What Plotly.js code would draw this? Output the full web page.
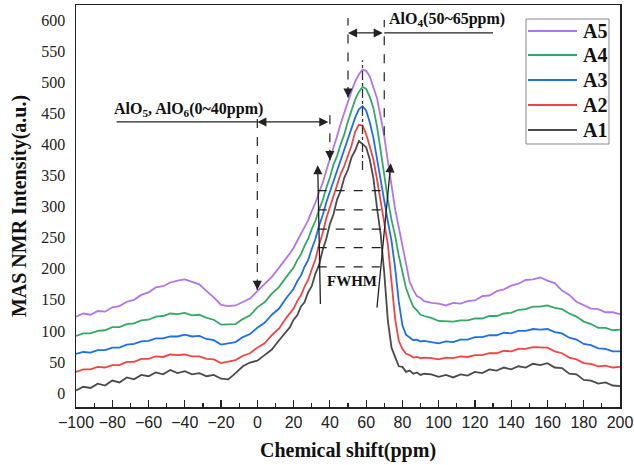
<!DOCTYPE html>
<html><head><meta charset="utf-8">
<script src="https://cdn.plot.ly/plotly-3.0.1.min.js"></script>
<style>html,body{margin:0;padding:0;background:#fff}</style>
</head><body><div id="chart" style="width:634px;height:465px"></div>
<script>
// ---- data ----
const shift = [-100,-96,-92,-88,-84,-80,-76,-72,-68,-64,-60,-56,-52,-48,-44,-40,-36,-32,-28,-24,-20,-16,-12,-8,-4,0,4,8,12,16,
  18,20,22,24,26,28,30,32,34,36,38,40,42,44,46,48,50,52,54,56,58,60,62,64,66,68,70,72,74,76,78,80,82,84,86,88,90,92,
  96,100,104,108,112,116,120,124,128,132,136,140,144,148,152,156,160,164,168,172,176,180,184,188,192,196,200];
const seriesNames = ['A1','A2','A3','A4','A5'];
const A5 = [123,128,126,132,131,138,140,147,150,158,162,170,172,178,181,183,179,175,164,154,142,140,141,147,152,164,175,187,202,217,
  225,234,245,254,267,278,293,306,323,338,358,376,396,414,434,452,471,487,502,513,521,519,510,494,475,445,413,373,335,296,267,237,207,179,166,156,153,148,
  145,144,141,145,144,148,149,156,157,164,167,173,176,182,183,186,181,177,165,158,147,142,136,135,130,130,127];
const A4 = [92,96,96,100,101,106,106,111,112,117,118,123,124,128,127,129,125,126,121,118,110,110,111,119,125,138,146,160,171,187,
  195,202,214,223,237,248,264,277,295,310,330,347,368,382,401,417,438,455,473,485,493,490,477,459,429,391,349,311,279,253,221,196,169,153,139,133,126,124,
  121,116,116,115,117,117,120,120,124,124,128,129,134,135,139,139,141,137,135,128,123,115,111,105,105,101,102];
const A3 = [63,66,65,69,69,73,73,78,79,83,84,88,88,91,91,94,91,92,87,85,78,80,82,90,95,105,113,126,136,153,
  161,168,180,189,203,214,232,248,269,286,307,324,344,359,378,392,411,426,444,457,462,455,436,411,377,341,304,276,245,201,147,109,94,90,85,86,83,84,
  82,80,83,82,86,86,90,90,93,93,97,96,100,100,103,102,103,98,96,89,86,79,77,72,71,67,67];
const A2 = [34,38,38,42,41,45,45,50,50,55,55,59,58,62,61,62,59,59,55,54,48,50,53,60,64,73,80,93,104,121,
  129,136,148,157,171,182,199,215,238,257,281,299,319,335,353,366,384,399,421,432,431,417,397,376,344,311,274,239,179,119,84,71,63,61,57,58,56,57,
  56,54,57,56,59,58,61,61,64,64,68,67,71,71,74,73,73,67,64,57,54,48,47,43,44,41,42];
const A1 = [4,10,8,15,12,20,17,25,22,29,27,33,30,37,32,35,30,32,27,29,23,22,32,43,49,52,61,70,85,98,
  106,118,125,139,146,162,172,192,206,230,248,272,288,312,326,347,360,380,391,406,401,396,376,346,298,256,193,116,73,57,43,42,34,36,31,33,29,31,
  30,26,29,25,30,28,34,32,38,36,41,38,43,41,47,45,48,41,40,31,30,21,20,15,17,12,11];
const fwhmLevels = [326,295,264,234,203];
const fwhmRight = [72,69,68.6,69,67.5];

// ---- styles ----
const seriesData = [A1,A2,A3,A4,A5];
const colors = ['#4a4a4a','#f04545','#1f6fe5','#36a865','#b276e6'];
const serif = 'Liberation Serif, Times New Roman, serif';
const sans = 'Liberation Sans, Arial, sans-serif';

const traces = seriesNames.map((n,i)=>({
  type:'scatter', mode:'lines', name:n, x:shift, y:seriesData[i],
  line:{color:colors[i], width:1.8}, hoverinfo:'skip'
}));

// pixel -> paper helpers for the hand-drawn legend
const L=76, R=620, T=5, B=407;
const P = px => (px-L)/(R-L);
const Q = py => (B-py)/(B-T);

const shapes = [];
const annotations = [];
const dk = '#222';

// legend
shapes.push({type:'rect', xref:'paper', yref:'paper', x0:P(526), x1:P(609), y0:Q(144), y1:Q(19),
  line:{color:'#888', width:1}, fillcolor:'#fff', layer:'above'});
const legY = [130,105,80,55,31];
seriesNames.forEach((n,i)=>{
  shapes.push({type:'line', xref:'paper', yref:'paper', x0:P(528), x1:P(577), y0:Q(legY[i]), y1:Q(legY[i]),
    line:{color:colors[i], width:2.2}, layer:'above'});
  annotations.push({xref:'paper', yref:'paper', x:P(581), y:Q(legY[i]), xanchor:'left', yanchor:'middle',
    text:'<b>'+n+'</b>', showarrow:false, font:{family:serif, size:20, color:'#111'}});
});

// AlO5/AlO6 bracket
shapes.push({type:'line', x0:-77.6, x1:0, y0:436.6, y1:436.6, line:{color:dk, width:1.3}});
annotations.push({x:-80, y:438, xanchor:'left', yanchor:'bottom', showarrow:false,
  text:'<b>AlO<sub>5</sub>, AlO<sub>6</sub>(0~40ppm)</b>', font:{family:serif, size:16, color:'#111'}});
annotations.push({x:0, y:436.6, ax:40, ay:436.6, axref:'x', ayref:'y', text:'', showarrow:true,
  arrowhead:2, startarrowhead:2, arrowside:'end+start', arrowsize:1.4, arrowwidth:1.3, arrowcolor:dk});

// AlO4 bracket
shapes.push({type:'line', x0:70, x1:130, y0:580, y1:580, line:{color:dk, width:1.3}});
annotations.push({x:71.5, y:583, xanchor:'left', yanchor:'bottom', showarrow:false,
  text:'<b>AlO<sub>4</sub>(50~65ppm)</b>', font:{family:serif, size:16, color:'#111'}});
annotations.push({x:50, y:580, ax:70, ay:580, axref:'x', ayref:'y', text:'', showarrow:true,
  arrowhead:2, startarrowhead:2, arrowside:'end+start', arrowsize:1.4, arrowwidth:1.3, arrowcolor:dk});

// dashed verticals
const dv = (x,y0,y1,head,dash)=>{
  shapes.push({type:'line', x0:x, x1:x, y0:y0, y1:y1, line:{color:'#333', width:1.3, dash:dash||'dash'}});
  if(head) annotations.push({x:x, y:y0, ax:0, ay:-12, text:'', showarrow:true, arrowhead:2, arrowsize:1.4, arrowwidth:1.3, arrowcolor:dk});
};
dv(0,166,452,true);
dv(40,375,456,true);
dv(50,476,604,true);
dv(70,415,601,false);
dv(58,359,536,false,'dashdot');

// FWHM levels
fwhmLevels.forEach((y,i)=>{
  shapes.push({type:'line', x0:33.3, x1:fwhmRight[i], y0:y, y1:y, line:{color:dk, width:1.2, dash:'dash'}});
});
annotations.push({x:33.3, y:367, ax:34.8, ay:141, axref:'x', ayref:'y', text:'', showarrow:true, arrowhead:2, arrowsize:1.4, arrowwidth:1.3, arrowcolor:dk});
annotations.push({x:73.6, y:370, ax:65.9, ay:135, axref:'x', ayref:'y', text:'', showarrow:true, arrowhead:2, arrowsize:1.4, arrowwidth:1.3, arrowcolor:dk});
annotations.push({x:52, y:181, showarrow:false, text:'<b>FWHM</b>', font:{family:serif, size:15, color:'#111'}});

const layout = {
  width:634, height:465,
  margin:{l:76, r:14, t:5, b:58},
  paper_bgcolor:'#fff', plot_bgcolor:'#fff',
  showlegend:false,
  xaxis:{range:[-100,200], tick0:0, dtick:20, ticks:'inside', ticklen:7, tickwidth:1.2, tickcolor:dk,
    showline:true, mirror:true, linecolor:dk, linewidth:1.5, showgrid:false, zeroline:false,
    tickfont:{family:sans, size:16, color:'#222'},
    minor:{ticks:'inside', dtick:10, tick0:0, ticklen:4, tickwidth:1.2, tickcolor:dk, showgrid:false},
    title:{text:'<b>Chemical shift(ppm)</b>', font:{family:serif, size:20, color:'#111'}, standoff:13}},
  yaxis:{range:[-22.6,625], tick0:0, dtick:50, ticks:'', showline:true, mirror:true, linecolor:dk, linewidth:1.5,
    showgrid:false, zeroline:false, ticklabelstandoff:6,
    tickfont:{family:serif, size:16, color:'#222'},
    title:{text:'<b>MAS NMR Intensity(a.u.)</b>', font:{family:serif, size:20, color:'#111'}, standoff:9}},
  shapes:shapes, annotations:annotations
};
Plotly.newPlot('chart', traces, layout, {staticPlot:true, displayModeBar:false});
</script></body></html>
